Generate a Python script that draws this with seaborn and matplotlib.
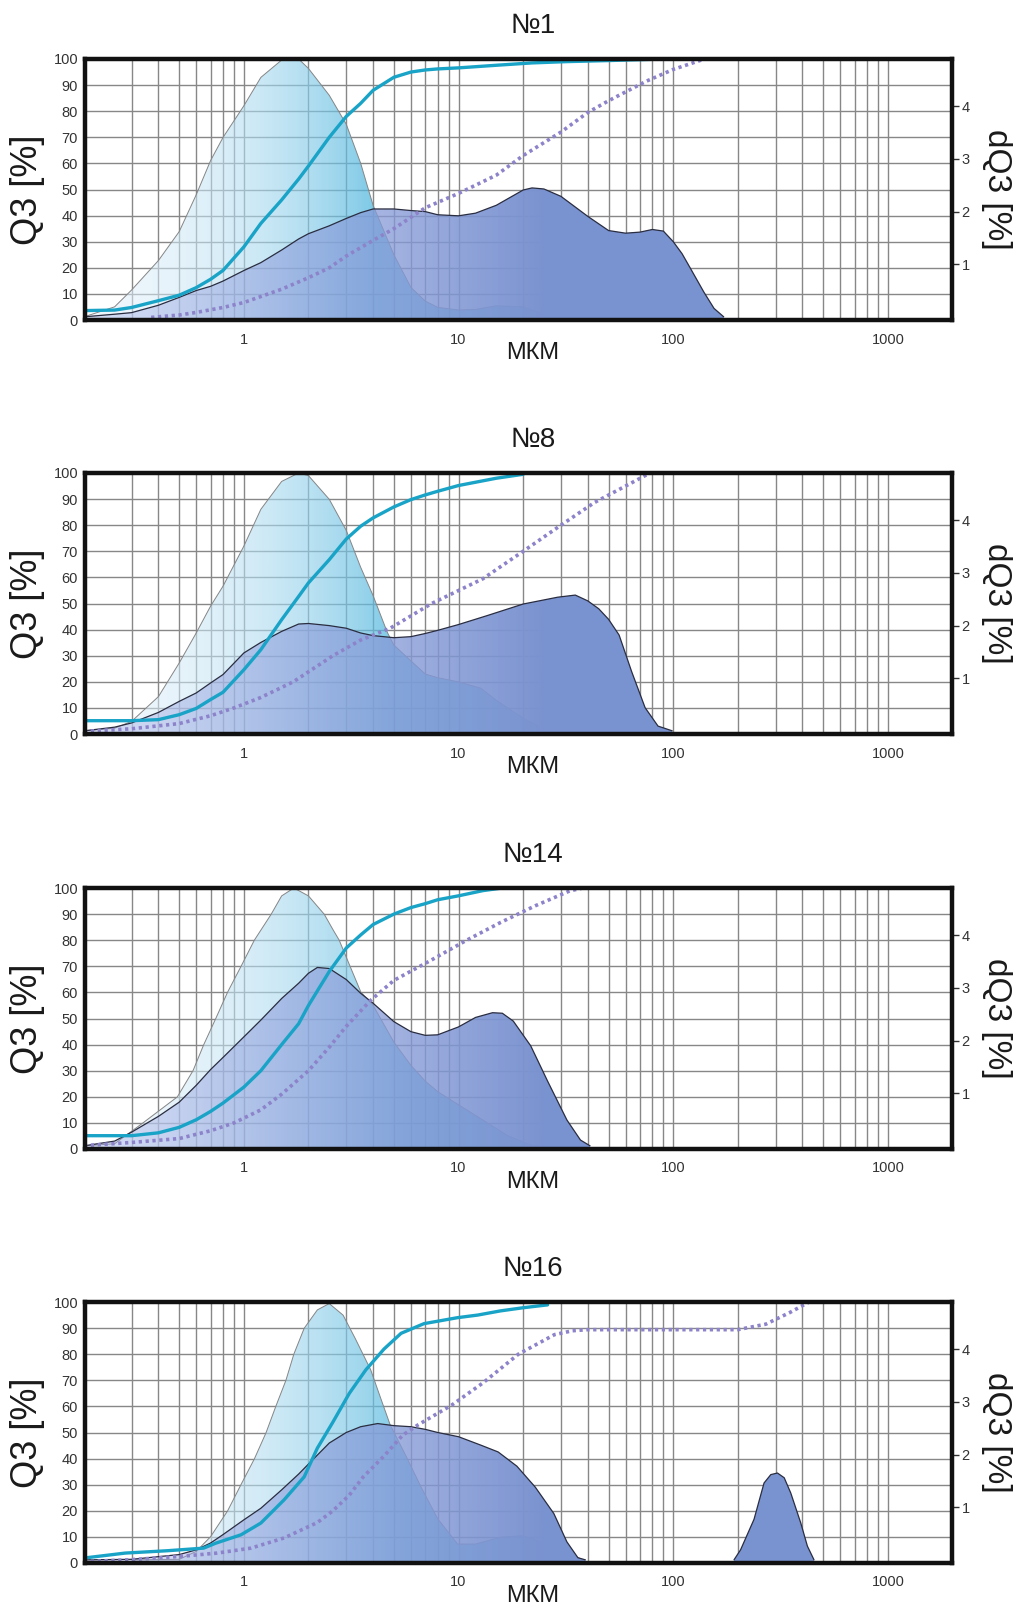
import numpy as np
import matplotlib
matplotlib.use("Agg")
import matplotlib.pyplot as plt
import seaborn as sns
from matplotlib.image import AxesImage
from matplotlib.path import Path
from matplotlib.ticker import FixedLocator, FixedFormatter, NullFormatter

sns.set_style("white")
plt.rcParams["font.family"] = ["Liberation Sans", "DejaVu Sans"]

# ---------------------------------------------------------------------------
# Particle size distributions (x in µm).
# Series A: fine fraction (cyan), series B: coarse fraction (lavender).
# *_dq3 -> density dQ3 [%] (right axis), *_q3 -> cumulative Q3 [%] (left axis)
# ---------------------------------------------------------------------------
sample_titles = ["№1", "№8", "№14", "№16"]

# ---- №1 ----
n1_a_dq3_x = [0.18, 0.25, 0.3, 0.4, 0.5, 0.6, 0.7, 0.8, 1, 1.2, 1.5, 1.8, 2, 2.5, 3, 3.5, 4, 5, 6, 7, 8, 10, 12, 15, 20, 25, 30]
n1_a_dq3_y = [0, 0.19, 0.51, 1.07, 1.62, 2.32, 2.97, 3.41, 4.01, 4.55, 4.88, 4.9, 4.72, 4.21, 3.66, 2.92, 2.12, 1.18, 0.56, 0.30, 0.18, 0.13, 0.14, 0.21, 0.19, 0.05, 0]
n1_b_dq3_x = [0.18, 0.25, 0.3, 0.4, 0.5, 0.6, 0.7, 0.8, 1, 1.2, 1.5, 1.8, 2, 2.5, 3, 3.5, 4, 5, 6, 7, 8, 10, 12, 15, 20,
              22, 25, 30, 40, 50, 60, 70, 80, 90, 100, 110, 120, 139, 155, 172]
n1_b_dq3_y = [0, 0.05, 0.08, 0.22, 0.37, 0.50, 0.58, 0.68, 0.88, 1.03, 1.27, 1.48, 1.58, 1.73, 1.87, 1.98, 2.05, 2.05, 2.02, 2.00,
              1.94, 1.92, 1.97, 2.12, 2.41, 2.45, 2.43, 2.29, 1.91, 1.64, 1.59, 1.61, 1.66, 1.63, 1.43, 1.20, 0.93, 0.47, 0.16, 0]
n1_a_q3_x = [0.18, 0.25, 0.3, 0.4, 0.5, 0.6, 0.7, 0.8, 1, 1.2, 1.5, 1.8, 2, 2.5, 3, 3.5, 4, 5, 6, 7, 8, 10, 15, 22, 32, 50, 90]
n1_a_q3_y = [3.6, 3.8, 4.8, 7.4, 9.5, 12.4, 15.6, 19, 28, 37, 46, 54, 59, 70, 78, 83, 88, 93, 95, 95.8, 96.2, 96.6, 97.6, 98.5, 99, 99.4, 100]
n1_b_q3_x = [0.37, 0.5, 0.6, 0.8, 1, 1.5, 2, 2.5, 3, 4, 5, 7, 10, 15, 20, 30, 40, 50, 75, 100, 140]
n1_b_q3_y = [1, 1.9, 2.9, 4.8, 6.7, 11.8, 16.2, 20, 24.5, 30.5, 35, 43, 48.5, 55.5, 63, 72, 79.5, 84, 91.5, 96, 100]

# ---- №8 ----
n8_a_dq3_x = [0.18, 0.25, 0.3, 0.4, 0.5, 0.6, 0.7, 0.8, 1, 1.2, 1.5, 1.8, 2, 2.5, 3, 3.5, 4, 4.66, 5, 6, 7, 8, 10, 12.7, 15, 20, 26]
n8_a_dq3_y = [0, 0.05, 0.18, 0.65, 1.29, 1.86, 2.37, 2.75, 3.51, 4.21, 4.74, 4.9, 4.85, 4.40, 3.81, 3.11, 2.57, 1.87, 1.63, 1.33,
              1.08, 1.01, 0.93, 0.81, 0.58, 0.24, 0]
n8_b_dq3_x = [0.18, 0.25, 0.3, 0.4, 0.5, 0.6, 0.7, 0.8, 1, 1.2, 1.5, 1.8, 2, 2.5, 3, 3.5, 4, 5, 6, 7, 8, 10, 13.6, 20, 29,
              35, 40, 45, 50, 56, 64, 74, 85, 99]
n8_b_dq3_y = [0, 0.07, 0.15, 0.35, 0.56, 0.72, 0.91, 1.07, 1.48, 1.68, 1.89, 2.03, 2.04, 2.00, 1.95, 1.86, 1.81, 1.77, 1.79, 1.85,
              1.91, 2.02, 2.19, 2.41, 2.54, 2.58, 2.47, 2.32, 2.12, 1.82, 1.13, 0.44, 0.09, 0]
n8_a_q3_x = [0.18, 0.3, 0.4, 0.5, 0.6, 0.7, 0.8, 1, 1.2, 1.5, 1.8, 2, 2.5, 3, 3.5, 4, 5, 6, 7, 8, 10, 15, 20]
n8_a_q3_y = [5.1, 5.1, 5.5, 7.4, 9.8, 13.2, 16, 24.6, 32.3, 43.8, 52.7, 57.9, 66.8, 74.7, 79.6, 82.8, 87, 89.8, 91.6, 93, 95.2, 98, 99.5]
n8_b_q3_x = [0.18, 0.3, 0.5, 0.7, 0.9, 1.2, 1.7, 2.6, 3.5, 4.8, 7.5, 13, 20, 30, 43, 60, 78]
n8_b_q3_y = [1, 2, 4, 7, 10, 14, 20, 30, 36, 40.5, 50, 59.5, 70, 80, 88.7, 95, 100]

# ---- №14 ----
n14_a_dq3_x = [0.18, 0.25, 0.34, 0.49, 0.58, 0.65, 0.74, 0.84, 0.97, 1.12, 1.34, 1.5, 1.71, 2, 2.37, 2.6, 2.78, 3.09, 3.51, 4,
               5, 6, 7, 8, 10, 13, 17, 22, 28]
n14_a_dq3_y = [0, 0.04, 0.44, 0.93, 1.43, 1.92, 2.42, 2.92, 3.41, 3.91, 4.40, 4.75, 4.9, 4.75, 4.40, 4.11, 3.91, 3.46, 2.92, 2.67,
               1.97, 1.53, 1.23, 1.03, 0.78, 0.49, 0.19, 0.01, 0]
n14_b_dq3_x = [0.18, 0.25, 0.3, 0.4, 0.5, 0.6, 0.7, 0.8, 1, 1.2, 1.5, 1.8, 2, 2.2, 2.5, 3, 3.5, 4, 5, 6, 7, 8, 10, 12, 14.4,
               16, 18, 21.7, 26, 32, 37, 41]
n14_b_dq3_y = [0, 0.09, 0.26, 0.56, 0.83, 1.15, 1.45, 1.68, 2.07, 2.39, 2.80, 3.09, 3.28, 3.39, 3.37, 3.16, 2.90, 2.71, 2.36, 2.17,
               2.10, 2.11, 2.26, 2.44, 2.53, 2.52, 2.37, 1.90, 1.23, 0.49, 0.11, 0]
n14_a_q3_x = [0.18, 0.3, 0.4, 0.5, 0.6, 0.7, 0.8, 1, 1.2, 1.5, 1.8, 2, 2.5, 3, 3.5, 4, 5, 6, 7, 8, 10, 13, 16]
n14_a_q3_y = [5.1, 5.1, 6.2, 8.3, 11.2, 14.4, 17.6, 23.7, 30, 40, 48, 55, 68, 77, 82, 86, 90, 92.5, 94, 95.5, 97, 99, 100]
n14_b_q3_x = [0.18, 0.3, 0.5, 0.7, 0.9, 1.2, 1.5, 2, 2.5, 3, 3.9, 5, 7.4, 10.8, 15.7, 22.8, 33, 38]
n14_b_q3_y = [1.3, 2.5, 4, 7, 10, 15, 21, 30, 39, 47, 57, 64.6, 72.2, 79.8, 86.8, 93.2, 98.9, 100]

# ---- №16 ----
n16_a_dq3_x = [0.18, 0.3, 0.5, 0.6, 0.7, 0.84, 0.97, 1.12, 1.27, 1.41, 1.57, 1.71, 1.91, 2.2, 2.5, 2.9, 3.3, 3.9, 4.35, 4.8,
               5.7, 6.7, 8, 9.9, 12, 15.7, 20, 26, 32, 38]
n16_a_dq3_y = [0, 0, 0.01, 0.16, 0.44, 0.93, 1.43, 1.92, 2.42, 2.92, 3.41, 3.91, 4.40, 4.75, 4.87, 4.65, 4.21, 3.61, 3.06, 2.57,
               1.97, 1.38, 0.78, 0.30, 0.30, 0.43, 0.46, 0.30, 0.14, 0]
n16_b_dq3_x = [0.18, 0.3, 0.5, 0.6, 0.7, 0.8, 1, 1.2, 1.5, 1.8, 2, 2.5, 3, 3.5, 4.2, 5, 6, 7, 8, 10, 12.7, 15.3, 18.7, 22.8,
               27.8, 32, 36, 39, 192, 206, 238, 265, 285, 306, 329, 353, 393, 422, 453]
n16_b_dq3_y = [0, 0.01, 0.10, 0.19, 0.32, 0.48, 0.76, 0.98, 1.33, 1.63, 1.82, 2.22, 2.42, 2.53, 2.59, 2.55, 2.53, 2.48, 2.42,
               2.34, 2.18, 2.05, 1.78, 1.38, 0.88, 0.34, 0.04, 0, 0, 0.19, 0.77, 1.46, 1.62, 1.65, 1.56, 1.27, 0.70, 0.26, 0]
n16_a_q3_x = [0.18, 0.28, 0.44, 0.65, 0.74, 0.97, 1.2, 1.54, 1.91, 2.2, 2.6, 3.1, 3.7, 4.5, 5.4, 6.9, 9.9, 12.3, 15.7, 20, 26]
n16_a_q3_y = [1.9, 3.8, 4.7, 5.7, 7.6, 10.8, 15.3, 24.2, 33, 44, 54, 65, 74, 82, 88, 91.7, 94, 95, 96.6, 97.8, 98.9]
n16_b_q3_x = [0.18, 0.3, 0.5, 0.75, 1.08, 1.54, 2.2, 2.6, 3.1, 3.6, 4.5, 5.5, 6.5, 9.3, 13, 19, 28, 34, 40, 200, 270, 350, 430]
n16_b_q3_y = [0.5, 1.3, 2.5, 3.8, 5.7, 9.6, 15.5, 20, 26, 33, 41, 49, 53, 60.5, 69, 80, 87.5, 89, 89.4, 89.4, 91.5, 96, 100]

samples = [
    (n1_a_dq3_x, n1_a_dq3_y, n1_b_dq3_x, n1_b_dq3_y, n1_a_q3_x, n1_a_q3_y, n1_b_q3_x, n1_b_q3_y),
    (n8_a_dq3_x, n8_a_dq3_y, n8_b_dq3_x, n8_b_dq3_y, n8_a_q3_x, n8_a_q3_y, n8_b_q3_x, n8_b_q3_y),
    (n14_a_dq3_x, n14_a_dq3_y, n14_b_dq3_x, n14_b_dq3_y, n14_a_q3_x, n14_a_q3_y, n14_b_q3_x, n14_b_q3_y),
    (n16_a_dq3_x, n16_a_dq3_y, n16_b_dq3_x, n16_b_dq3_y, n16_a_q3_x, n16_a_q3_y, n16_b_q3_x, n16_b_q3_y),
]

x_major = [1, 10, 100, 1000]
x_major_labels = ["1", "10", "100", "1000"]
q3_ticks = list(range(0, 101, 10))
dq3_ticks = [1, 2, 3, 4]

# ---------------------------------------------------------------------------
X_MIN, X_MAX = 0.182, 1990
DQ3_LIM = (-0.06, 4.9)
x_minor = [m * 10.0 ** d for d in (-1, 0, 1, 2) for m in range(2, 10) if m * 10.0 ** d > 0.25]

GRID = "#878787"
CYAN = "#19a3c7"
LAV = "#8c83ca"
LIGHT_LEFT = (0.88, 0.94, 0.98, 0.55)
LIGHT_RIGHT = (0.30, 0.71, 0.87, 0.72)
DARK_LEFT = (0.62, 0.66, 0.90, 0.30)
DARK_RIGHT = (0.478, 0.576, 0.816, 1.0)

W, H = 1028, 1613
fig = plt.figure(figsize=(W / 100, H / 100), dpi=100)
panel_tops = [59, 473, 888, 1302]
ax_left, ax_right, ax_h = 85, 952, 261


def split_runs(x, y):
    """Split a distribution into separate humps wherever it rests on the baseline."""
    runs, cur = [], [0]
    for k in range(1, len(x)):
        if y[k] == 0 and y[k - 1] == 0:
            runs.append(cur)
            cur = []
        cur.append(k)
    runs.append(cur)
    return [([x[k] for k in r], [y[k] for k in r]) for r in runs if len(r) > 1]


def gradient_area(axd, x, y, c_left, c_right, g_from, g_to, z, gamma=1.0):
    """Fill under (x, y) with a horizontal RGBA gradient running along log-x."""
    base = axd.get_ylim()[0]
    paths = []
    for rx, ry in split_runs(x, y):
        poly = axd.fill_between(rx, ry, base, facecolor="none", edgecolor="none", zorder=z)
        paths.extend(poly.get_paths())
    clip = Path.make_compound_path(*paths)
    l0, l1 = np.log10(X_MIN), np.log10(X_MAX)
    lx = np.linspace(l0, l1, 800)
    t = np.clip((lx - np.log10(g_from)) / (np.log10(g_to) - np.log10(g_from)), 0, 1) ** gamma
    t = t[:, None]
    rgba = np.array(c_left)[None, :] * (1 - t) + np.array(c_right)[None, :] * t
    img = np.repeat(rgba[None, :, :], 2, axis=0)
    im = AxesImage(axd, extent=(0, 1, 0, 1), transform=axd.transAxes,
                   interpolation="bilinear", origin="lower", zorder=z)
    im.set_data(img)
    axd.add_image(im)
    im.set_clip_path(clip, axd.transData)
    return im


def outline(axd, x, y, **kw):
    for rx, ry in split_runs(x, y):
        axd.plot(rx, ry, **kw)


for i, (title, data) in enumerate(zip(sample_titles, samples)):
    a_x, a_y, b_x, b_y, aq_x, aq_y, bq_x, bq_y = data
    top = panel_tops[i]
    rect = [ax_left / W, (H - top - ax_h) / H, (ax_right - ax_left) / W, ax_h / H]

    # base axes: Q3 scale + grid
    ax = fig.add_axes(rect)
    ax.set_xscale("log")
    ax.set_xlim(X_MIN, X_MAX)
    ax.set_ylim(0, 100)
    ax.xaxis.set_major_locator(FixedLocator(x_major))
    ax.xaxis.set_major_formatter(FixedFormatter(x_major_labels))
    ax.xaxis.set_minor_locator(FixedLocator(x_minor))
    ax.xaxis.set_minor_formatter(NullFormatter())
    ax.yaxis.set_major_locator(FixedLocator(q3_ticks))
    ax.grid(True, which="both", axis="both", color=GRID, lw=1.0)
    ax.set_axisbelow(True)
    ax.tick_params(axis="both", which="both", length=0)
    ax.tick_params(axis="y", labelsize=10.5, pad=5, labelcolor="#333333")
    ax.tick_params(axis="x", labelsize=10.5, pad=9, labelcolor="#333333")
    for s in ax.spines.values():
        s.set_visible(False)
    ax.set_ylabel("Q3 [%]", fontsize=26, va="center", color="#1a1a1a")
    ax.yaxis.set_label_coords(-0.066, 0.5)
    ax.set_xlabel("МКМ", fontsize=17, color="#1a1a1a")
    ax.xaxis.set_label_coords(0.516, -0.085)
    ax.set_title(title, fontsize=20, x=0.517, pad=19, color="#1a1a1a")

    # density axes: dQ3 scale on the right, filled distributions
    axd = ax.twinx()
    axd.set_ylim(*DQ3_LIM)
    axd.set_yticks(dq3_ticks)
    axd.tick_params(axis="y", length=5, width=1.0, direction="out", labelsize=10.5,
                    pad=2, color="#333333", labelcolor="#333333")
    for s in axd.spines.values():
        s.set_visible(False)
    axd.set_ylabel("dQ3 [%]", fontsize=24, rotation=270, va="center", color="#1a1a1a")
    axd.yaxis.set_label_coords(1.051, 0.5)

    a_arr = np.asarray(a_y)
    a_peak = np.argmax(a_arr)
    a_end = np.asarray(a_x)[a_peak + np.where(a_arr[a_peak:] >= 0.3 * a_arr.max())[0][-1]]
    gradient_area(axd, a_x, a_y, LIGHT_LEFT, LIGHT_RIGHT, a_x[0], a_end, 1, gamma=2.0)
    outline(axd, a_x, a_y, color="#858585", lw=0.7, zorder=1.5)
    gradient_area(axd, b_x, b_y, DARK_LEFT, DARK_RIGHT, b_x[0], 25, 2)
    outline(axd, b_x, b_y, color="#2a2d40", lw=0.9, zorder=2.5)
    axd.set_ylim(*DQ3_LIM)

    # cumulative curves on top
    axc = ax.twinx()
    sns.lineplot(x=aq_x, y=aq_y, ax=axc, color=CYAN, lw=2.4, estimator=None, sort=False)
    sns.lineplot(x=bq_x, y=bq_y, ax=axc, color=LAV, lw=2.6, estimator=None, sort=False,
                 linestyle=(0, (0.9, 1.0)))
    axc.set_ylim(0, 100)
    axc.set_xlim(X_MIN, X_MAX)
    axc.yaxis.set_visible(False)
    for s in axc.spines.values():
        s.set_visible(True)
        s.set_linewidth(3.2)
        s.set_color("#111111")

fig.savefig("out.png", dpi=100, facecolor="white")
